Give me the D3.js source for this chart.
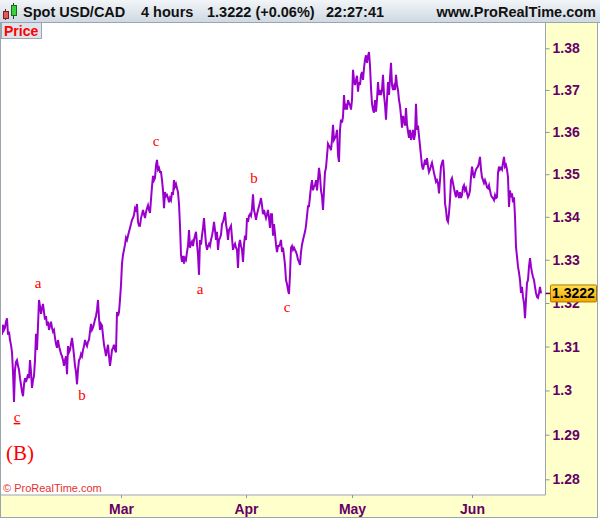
<!DOCTYPE html>
<html><head><meta charset="utf-8">
<script src="https://cdn.jsdelivr.net/npm/d3@7/dist/d3.min.js"></script>
<style>html,body{margin:0;padding:0;background:#fff;}svg{display:block;}</style>
</head><body>
<svg id="chart" width="600" height="519"></svg>
<script>
// ---- DATA (4-hour closes, USD/CAD) ----
const closes = [
1.3127,1.3150,1.3138,1.3143,1.3157,1.3165,1.3127,1.3134,1.3115,1.3104,
1.3087,1.3042,1.2974,1.3047,1.3065,1.3069,1.3056,1.3047,1.3028,1.3013,
1.2997,1.2987,1.3013,1.3028,1.3019,1.3028,1.3037,1.3028,1.3069,1.3042,
1.3006,1.3023,1.3033,1.3069,1.3129,1.3092,1.3148,1.3207,1.3193,1.3175,
1.3188,1.3198,1.3179,1.3162,1.3170,1.3148,1.3157,1.3138,1.3148,1.3157,
1.3143,1.3134,1.3138,1.3120,1.3106,1.3097,1.3115,1.3101,1.3092,1.3083,
1.3078,1.3069,1.3056,1.3069,1.3078,1.3037,1.3101,1.3087,1.3092,1.3106,
1.3120,1.3101,1.3080,1.3056,1.3042,1.3014,1.3047,1.3069,1.3073,1.3083,
1.3078,1.3092,1.3101,1.3115,1.3106,1.3101,1.3111,1.3115,1.3134,1.3152,
1.3138,1.3143,1.3152,1.3162,1.3170,1.3184,1.3207,1.3165,1.3138,1.3152,
1.3148,1.3125,1.3104,1.3092,1.3078,1.3092,1.3104,1.3078,1.3056,1.3073,
1.3092,1.3097,1.3104,1.3092,1.3087,1.3179,1.3170,1.3179,1.3207,1.3242,
1.3291,1.3311,1.3323,1.3335,1.3351,1.3346,1.3356,1.3365,1.3374,1.3383,
1.3393,1.3397,1.3404,1.3420,1.3416,1.3430,1.3388,1.3379,1.3379,1.3397,
1.3406,1.3416,1.3406,1.3397,1.3411,1.3420,1.3427,1.3416,1.3409,1.3441,
1.3471,1.3496,1.3486,1.3491,1.3520,1.3534,1.3511,1.3515,1.3505,1.3505,
1.3486,1.3462,1.3420,1.3458,1.3448,1.3451,1.3444,1.3434,1.3444,1.3439,
1.3458,1.3451,1.3486,1.3471,1.3477,1.3467,1.3458,1.3430,1.3379,1.3311,
1.3295,1.3309,1.3291,1.3304,1.3300,1.3318,1.3332,1.3369,1.3328,1.3337,
1.3342,1.3332,1.3346,1.3356,1.3365,1.3337,1.3311,1.3265,1.3346,1.3335,
1.3356,1.3374,1.3397,1.3365,1.3337,1.3323,1.3332,1.3337,1.3332,1.3346,
1.3356,1.3369,1.3388,1.3369,1.3346,1.3365,1.3323,1.3346,1.3351,1.3358,
1.3383,1.3388,1.3397,1.3411,1.3383,1.3369,1.3346,1.3369,1.3374,1.3379,
1.3351,1.3323,1.3332,1.3337,1.3328,1.3323,1.3281,1.3335,1.3346,1.3332,
1.3323,1.3295,1.3335,1.3356,1.3346,1.3397,1.3388,1.3402,1.3406,1.3402,
1.3420,1.3453,1.3416,1.3406,1.3393,1.3406,1.3416,1.3425,1.3434,1.3444,
1.3427,1.3406,1.3416,1.3406,1.3397,1.3406,1.3416,1.3397,1.3374,1.3406,
1.3406,1.3356,1.3383,1.3360,1.3335,1.3318,1.3332,1.3332,1.3337,1.3346,
1.3318,1.3328,1.3309,1.3288,1.3253,1.3244,1.3230,1.3221,1.3265,1.3328,
1.3332,1.3323,1.3328,1.3323,1.3318,1.3311,1.3300,1.3295,1.3288,1.3318,
1.3335,1.3346,1.3356,1.3365,1.3379,1.3402,1.3425,1.3425,1.3448,1.3471,
1.3486,1.3462,1.3471,1.3474,1.3486,1.3462,1.3486,1.3515,1.3496,1.3462,
1.3448,1.3416,1.3462,1.3505,1.3515,1.3543,1.3572,1.3567,1.3563,1.3557,
1.3581,1.3617,1.3581,1.3586,1.3590,1.3605,1.3545,1.3529,1.3605,1.3629,
1.3622,1.3636,1.3688,1.3653,1.3667,1.3653,1.3676,1.3669,1.3664,1.3653,
1.3676,1.3748,1.3724,1.3712,1.3724,1.3734,1.3696,1.3719,1.3712,1.3736,
1.3743,1.3724,1.3752,1.3772,1.3783,1.3765,1.3781,1.3791,1.3758,1.3705,
1.3667,1.3653,1.3646,1.3676,1.3648,1.3676,1.3719,1.3688,1.3700,1.3688,
1.3700,1.3736,1.3688,1.3664,1.3629,1.3676,1.3719,1.3688,1.3729,1.3765,
1.3712,1.3700,1.3709,1.3700,1.3736,1.3712,1.3700,1.3676,1.3662,1.3638,
1.3610,1.3638,1.3629,1.3615,1.3657,1.3617,1.3601,1.3586,1.3605,1.3581,
1.3590,1.3605,1.3581,1.3594,1.3667,1.3605,1.3615,1.3590,1.3567,1.3543,
1.3520,1.3511,1.3522,1.3534,1.3522,1.3538,1.3518,1.3505,1.3511,1.3520,
1.3527,1.3515,1.3503,1.3493,1.3482,1.3486,1.3479,1.3455,1.3486,1.3518,
1.3527,1.3534,1.3503,1.3432,1.3416,1.3393,1.3388,1.3409,1.3439,1.3486,
1.3491,1.3479,1.3467,1.3455,1.3446,1.3462,1.3455,1.3444,1.3458,1.3444,
1.3451,1.3469,1.3474,1.3462,1.3467,1.3455,1.3446,1.3451,1.3462,1.3493,
1.3518,1.3503,1.3491,1.3503,1.3511,1.3515,1.3518,1.3527,1.3541,1.3511,
1.3493,1.3486,1.3479,1.3486,1.3479,1.3469,1.3467,1.3474,1.3462,1.3451,
1.3446,1.3444,1.3439,1.3451,1.3444,1.3446,1.3503,1.3518,1.3511,1.3515,
1.3511,1.3527,1.3541,1.3518,1.3522,1.3511,1.3493,1.3423,1.3462,1.3446,
1.3455,1.3434,1.3446,1.3400,1.3330,1.3307,1.3284,1.3270,1.3253,1.3223,
1.3237,1.3214,1.3200,1.3165,1.3207,1.3246,1.3253,1.3284,1.3304,1.3284,
1.3270,1.3260,1.3253,1.3237,1.3223,1.3214,1.3212,1.3223,1.3237,1.3222
];
const lastPrice = 1.3222;
const yTickValues = [1.28,1.29,1.30,1.31,1.32,1.33,1.34,1.35,1.36,1.37,1.38];
const yTickLabels = ["1.28","1.29","1.3","1.31","1.32","1.33","1.34","1.35","1.36","1.37","1.38"];
const monthLabels = ["Mar","Apr","May","Jun"];
const monthBarIndex = [119, 244, 350, 470];
const waveLabels = ["c","a","b","c","a","b","c"];
const waveBarIndex = [15, 36, 80, 154, 198, 252, 285];
const wavePrice = [1.2929, 1.3235, 1.2978, 1.3567, 1.3221, 1.3479, 1.3179];
const degreeLabel = "(B)";
const degreeBarIndex = 4;
const degreePrice = 1.2843;
const headerTexts = ["Spot USD/CAD", "4 hours", "1.3222 (+0.06%)", "22:27:41"];

// ---- LAYOUT ----
const W = 600, H = 519;
const plot = {l: 2, t: 23, r: 545.5, b: 495};
const svg = d3.select("#chart");
const defs = svg.append("defs");
const hg = defs.append("linearGradient").attr("id","hdr").attr("x1",0).attr("y1",0).attr("x2",0).attr("y2",1);
hg.append("stop").attr("offset","0%").attr("stop-color","#f2f5f8");
hg.append("stop").attr("offset","100%").attr("stop-color","#cfd9e2");
const gg = defs.append("linearGradient").attr("id","gold").attr("x1",0).attr("y1",0).attr("x2",0).attr("y2",1);
gg.append("stop").attr("offset","0%").attr("stop-color","#ffe04a");
gg.append("stop").attr("offset","100%").attr("stop-color","#f0a800");
defs.append("clipPath").attr("id","clip").append("rect")
  .attr("x",plot.l).attr("y",plot.t).attr("width",plot.r-plot.l).attr("height",plot.b-plot.t);

// background
svg.append("rect").attr("x",0).attr("y",0).attr("width",W).attr("height",H).attr("fill","#fff");
// right axis panel and bottom axis panel
svg.append("rect").attr("x",plot.r).attr("y",plot.t).attr("width",597.5-plot.r).attr("height",517.5-plot.t).attr("fill","#ffffcc");
svg.append("rect").attr("x",0.5).attr("y",plot.b).attr("width",plot.r).attr("height",517.5-plot.b).attr("fill","#ffffcc");
// borders
const bc = "#9aa5b0";
svg.append("rect").attr("x",0.5).attr("y",22.5).attr("width",597).attr("height",495).attr("fill","none").attr("stroke",bc);
svg.append("line").attr("x1",plot.r).attr("x2",plot.r).attr("y1",plot.t).attr("y2",plot.b).attr("stroke",bc);
svg.append("line").attr("x1",0.5).attr("x2",plot.r).attr("y1",plot.b).attr("y2",plot.b).attr("stroke",bc);

// header
svg.append("rect").attr("x",0).attr("y",0).attr("width",W).attr("height",22).attr("fill","url(#hdr)");
svg.append("line").attr("x1",0).attr("x2",W).attr("y1",22.5).attr("y2",22.5).attr("stroke",bc);
// icon
const ic = svg.append("g");
ic.append("line").attr("x1",5.5).attr("x2",5.5).attr("y1",9).attr("y2",20).attr("stroke","#333");
ic.append("rect").attr("x",3.5).attr("y",11.5).attr("width",5).attr("height",7).attr("fill","#e05a5a").attr("stroke","#7a2020");
ic.append("line").attr("x1",13.5).attr("x2",13.5).attr("y1",3).attr("y2",19).attr("stroke","#333");
ic.append("rect").attr("x",11.5).attr("y",5.5).attr("width",5).attr("height",10).attr("fill","#3ccf3c").attr("stroke","#1a6a1a");
const hx = [23, 141, 207, 326];
svg.selectAll("text.hdr").data(headerTexts).join("text").attr("class","hdr")
  .attr("x",(d,i)=>hx[i]).attr("y",17).attr("font-family","Liberation Sans, Arial, sans-serif")
  .attr("font-weight","bold").attr("font-size",14.5).attr("fill","#111").text(d=>d);
svg.append("text").attr("x",596).attr("y",17).attr("text-anchor","end")
  .attr("font-family","Liberation Sans, Arial, sans-serif").attr("font-weight","bold").attr("font-size",14.5)
  .attr("fill","#111").text("www.ProRealTime.com");

// Price tab
svg.append("rect").attr("x",1.5).attr("y",22.5).attr("width",40).attr("height",16).attr("fill","#dde3ea").attr("stroke",bc);
svg.append("text").attr("x",4).attr("y",35.5).attr("font-family","Liberation Sans, Arial, sans-serif")
  .attr("font-weight","bold").attr("font-size",14).attr("fill","#ff0000").text("Price");

// scales
const x = d3.scaleLinear().domain([0, closes.length-1]).range([2, 541]);
const y = d3.scaleLog().domain([1.2765, 1.3861]).range([plot.b, plot.t]);

// price line
const line = d3.line().x((d,i)=>x(i)).y(d=>y(d));
svg.append("path").datum(closes).attr("clip-path","url(#clip)")
  .attr("d",line).attr("fill","none").attr("stroke","#9900cc").attr("stroke-width",2)
  .attr("stroke-linejoin","miter");

// y axis
const labCol = "#660066";
const yAxis = d3.axisRight(y).tickValues(yTickValues).tickFormat((d,i)=>yTickLabels[i]).tickSize(4).tickPadding(3);
const ya = svg.append("g").attr("transform",`translate(${plot.r},0)`).call(yAxis);
ya.select(".domain").remove();
ya.selectAll(".tick line").attr("stroke","#8a96a0");
ya.selectAll(".tick text").attr("fill",labCol).attr("font-family","Liberation Sans, Arial, sans-serif")
  .attr("font-weight","bold").attr("font-size",14);

// x axis
const xAxis = d3.axisBottom(x).tickValues(monthBarIndex).tickFormat((d,i)=>monthLabels[i]).tickSize(3).tickPadding(6);
const xa = svg.append("g").attr("transform",`translate(0,${plot.b})`).call(xAxis);
xa.select(".domain").remove();
xa.selectAll(".tick line").attr("stroke","#8a96a0");
xa.selectAll(".tick text").attr("fill",labCol).attr("font-family","Liberation Sans, Arial, sans-serif")
  .attr("font-weight","bold").attr("font-size",14);

// wave labels
svg.selectAll("text.wave").data(waveLabels).join("text").attr("class","wave")
  .attr("x",(d,i)=>x(waveBarIndex[i])).attr("y",(d,i)=>y(wavePrice[i]))
  .attr("text-anchor","middle").attr("font-family","Liberation Serif, Times New Roman, serif")
  .attr("font-size",15).attr("fill","#ff0000")
  .attr("text-decoration",(d,i)=>i===0?"underline":null).text(d=>d);
svg.append("text").attr("x",x(degreeBarIndex)).attr("y",y(degreePrice))
  .attr("font-family","Liberation Serif, Times New Roman, serif").attr("font-size",21)
  .attr("fill","#ff0000").text(degreeLabel);

// copyright
svg.append("text").attr("x",3).attr("y",492).attr("font-family","Liberation Sans, Arial, sans-serif")
  .attr("font-size",11).attr("fill","#e83030").text("© ProRealTime.com");

// last price marker (the box covers part of the 1.32 label, as in the reference)
const ly = y(lastPrice);
svg.append("line").attr("x1",plot.r).attr("x2",plot.r+5).attr("y1",ly).attr("y2",ly).attr("stroke",labCol).attr("stroke-width",1.5);
svg.append("rect").attr("x",550.5).attr("y",ly-8.5).attr("width",46).attr("height",17).attr("rx",1)
  .attr("fill","url(#gold)").attr("stroke","#b07800");
svg.append("text").attr("x",573.5).attr("y",ly+5).attr("text-anchor","middle")
  .attr("font-family","Liberation Sans, Arial, sans-serif").attr("font-weight","bold").attr("font-size",14)
  .attr("fill","#000").text(d3.format(".4f")(lastPrice));
</script>
</body></html>
